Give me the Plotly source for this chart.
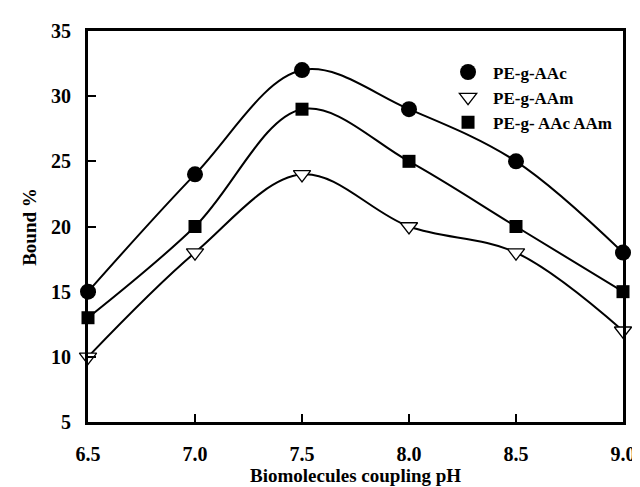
import plotly.graph_objects as go

ph = [6.5, 7.0, 7.5, 8.0, 8.5, 9.0]
aac = [15, 24, 32, 29, 25, 18]
aam = [10, 18, 24, 20, 18, 12]
aac_aam = [13, 20, 29, 25, 20, 15]
names = ["PE-g-AAc", "PE-g-AAm", "PE-g- AAc AAm"]
y_ticks = [5, 10, 15, 20, 25, 30, 35]
x_ticks = [6.5, 7.0, 7.5, 8.0, 8.5, 9.0]

FONT = "Liberation Serif"
series = [
    (aac, names[0], dict(symbol="circle", size=16, color="black")),
    (aam, names[1], dict(symbol="triangle-down-open", size=15, color="black", line=dict(width=1.3, color="black"))),
    (aac_aam, names[2], dict(symbol="square", size=13, color="black")),
]

fig = go.Figure()
for vals, name, mk in series:
    fig.add_trace(go.Scatter(x=ph, y=vals, mode="lines", line=dict(shape="spline", color="black", width=2),
                             showlegend=False, hoverinfo="skip", cliponaxis=False))
for vals, name, mk in series:
    if "open" in mk["symbol"]:
        fig.add_trace(go.Scatter(x=ph, y=vals, mode="markers", marker=dict(symbol="triangle-down", size=mk["size"], color="white"),
                                 showlegend=False, hoverinfo="skip", cliponaxis=False))
    fig.add_trace(go.Scatter(x=ph, y=vals, mode="markers", name=name, marker=mk, cliponaxis=False))

fig.update_layout(
    width=640, height=487,
    margin=dict(l=80, r=13, t=21, b=73),
    paper_bgcolor="white", plot_bgcolor="white",
    font=dict(family=FONT, color="black"),
    showlegend=True,
    legend=dict(x=(443 - 80) / 547, y=0.94, xanchor="left", yanchor="top", bgcolor="rgba(0,0,0,0)",
                font=dict(family=FONT, size=17, color="black", weight="bold"), itemwidth=40, tracegroupgap=0),
    xaxis=dict(range=[6.5, 9.0], tickvals=x_ticks, ticktext=[f"{v:.1f}" for v in x_ticks],
               ticks="inside", ticklen=8, tickwidth=2, tickcolor="black",
               showline=True, linewidth=3, linecolor="black", mirror=True, showgrid=False, zeroline=False,
               tickfont=dict(family=FONT, size=20, color="black", weight="bold"), ticklabelstandoff=12),
    yaxis=dict(range=[5, 35], tickvals=y_ticks,
               ticks="inside", ticklen=8, tickwidth=2, tickcolor="black",
               showline=True, linewidth=3, linecolor="black", mirror=True, showgrid=False, zeroline=False,
               tickfont=dict(family=FONT, size=20, color="black", weight="bold"), ticklabelstandoff=10),
    annotations=[
        dict(text="Bound %", xref="paper", yref="paper", x=(20 - 80) / 547, y=0.5, xanchor="center", yanchor="middle",
             textangle=-90, showarrow=False, font=dict(family=FONT, size=19, color="black", weight="bold")),
        dict(text="Biomolecules coupling pH", xref="paper", yref="paper", x=0.5, y=-(468 - 414) / 393,
             xanchor="center", yanchor="middle", showarrow=False,
             font=dict(family=FONT, size=19, color="black", weight="bold")),
    ],
)

fig.write_html("out.html")
